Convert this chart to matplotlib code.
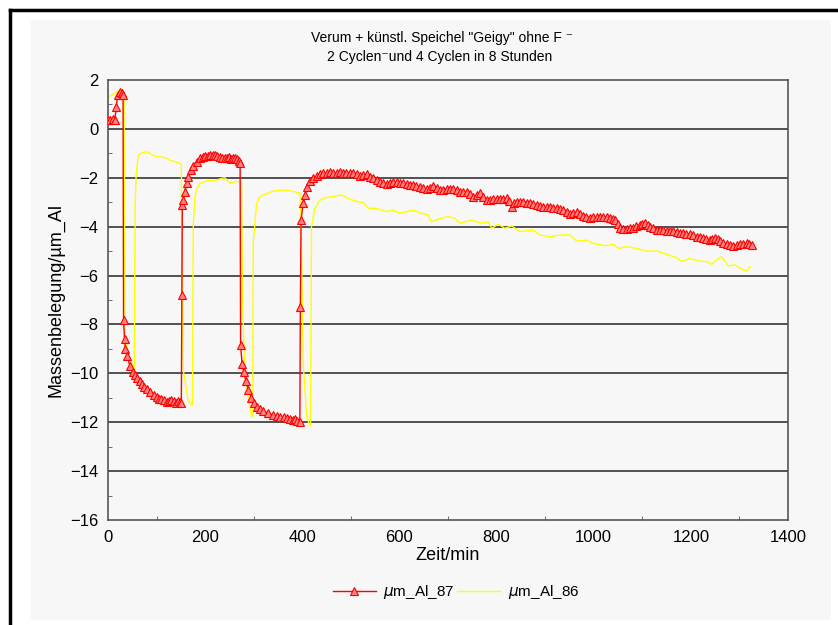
import matplotlib
matplotlib.use("Agg")
import matplotlib.pyplot as plt
from matplotlib.patches import Rectangle
from matplotlib.ticker import MultipleLocator

# red series, um_Al_87: (Zeit/min, Massenbelegung)
pts87 = [
    (0, 0.36), (5, 0.36), (10, 0.4), (14, 0.36), (17, 0.9), (20, 1.4), (24, 1.5), (28, 1.45),
    (31, 1.4), (32, -7.8), (34, -8.6), (36, -9.0), (40, -9.3), (45, -9.7), (51, -9.95),
    (56, -10.05), (60, -10.2), (65, -10.3), (70, -10.45), (75, -10.55), (80, -10.65),
    (87, -10.76), (95, -10.9), (100, -10.95), (105, -11.05), (110, -11.05), (115, -11.1),
    (122, -11.17), (126, -11.12), (130, -11.1), (135, -11.15), (140, -11.2), (144, -11.12),
    (148, -11.17), (151, -11.2),
    (152, -6.8), (153, -3.1), (155, -2.9), (158, -2.6), (162, -2.2), (165, -1.97), (170, -1.7),
    (176, -1.5), (183, -1.34), (190, -1.2), (195, -1.15), (200, -1.12), (205, -1.1),
    (210, -1.08), (216, -1.07), (220, -1.08), (225, -1.1), (230, -1.15), (235, -1.2),
    (240, -1.18), (244, -1.2), (250, -1.15), (254, -1.22), (258, -1.2), (262, -1.18),
    (265, -1.25), (270, -1.3), (272, -1.4),
    (273, -8.84), (276, -9.6), (279, -9.93), (284, -10.3), (289, -10.68), (295, -11.0),
    (300, -11.2), (306, -11.36), (313, -11.45), (320, -11.55), (330, -11.62), (340, -11.7),
    (348, -11.75), (355, -11.78), (362, -11.8), (368, -11.83), (375, -11.88), (380, -11.9),
    (385, -11.87), (390, -11.95), (395, -11.98),
    (396, -7.27), (397.5, -3.73), (401.7, -3.04), (406, -2.7), (409, -2.36), (416, -2.15),
    (423, -2.02), (430, -1.92), (436.5, -1.85), (443, -1.8), (450, -1.82), (457, -1.78),
    (464, -1.82), (471, -1.8), (477.7, -1.75), (484, -1.8), (491, -1.82), (498, -1.8),
    (505, -1.82), (512, -1.86), (519, -1.93), (526, -1.88), (532.6, -1.85), (539, -1.95),
    (546, -2.02), (553, -2.1), (560, -2.16), (567, -2.2), (574, -2.25), (580, -2.2),
    (587, -2.16), (594, -2.18), (601, -2.2), (608, -2.22), (615, -2.25), (622, -2.28),
    (628.6, -2.3), (635, -2.33), (642, -2.36), (649, -2.42), (656, -2.47), (663, -2.4),
    (670, -2.34), (677, -2.42), (683.6, -2.5), (690, -2.48), (697, -2.45), (704, -2.46),
    (711, -2.47), (718, -2.52), (724.7, -2.6), (731, -2.6), (738.5, -2.57), (745, -2.68),
    (752, -2.77), (759, -2.7), (766, -2.64), (773, -2.78), (779.7, -2.91), (786, -2.9),
    (793, -2.88), (800, -2.88), (807, -2.88), (814, -2.86), (821, -2.84), (826, -2.95),
    (831, -3.18), (836, -3.05), (841.4, -2.98), (848, -2.98), (855, -2.98), (862, -3.02),
    (869, -3.05), (876, -3.08), (882.6, -3.11), (889, -3.16), (896, -3.2), (903, -3.2),
    (910, -3.2), (917, -3.22), (924, -3.25), (931, -3.28), (937.6, -3.32), (944, -3.4),
    (951, -3.5), (958, -3.46), (965, -3.41), (972, -3.48), (978.6, -3.55), (985, -3.6),
    (992, -3.63), (999, -3.61), (1006, -3.59), (1013, -3.59), (1020, -3.59), (1027, -3.62),
    (1033.6, -3.66), (1039, -3.7), (1044, -3.73), (1049, -3.9), (1054, -4.04), (1061, -4.08),
    (1068, -4.1), (1075, -4.07), (1081.6, -4.04), (1088, -3.98), (1095, -3.93), (1100, -3.88),
    (1105.6, -3.86), (1111, -3.93), (1116, -4.0), (1123, -4.07), (1129.6, -4.14),
    (1136, -4.14), (1143, -4.14), (1150, -4.16), (1157, -4.18), (1164, -4.19), (1171, -4.2),
    (1178, -4.24), (1184.6, -4.27), (1191, -4.29), (1198, -4.31), (1205, -4.36),
    (1212, -4.41), (1219, -4.43), (1225.6, -4.45), (1232, -4.5), (1239, -4.55), (1244, -4.5),
    (1249.7, -4.45), (1255, -4.52), (1260, -4.59), (1267, -4.66), (1273.6, -4.72),
    (1280, -4.75), (1287, -4.78), (1294, -4.75), (1301, -4.72), (1308, -4.7), (1315, -4.68),
    (1320, -4.72), (1325, -4.75),
]

# yellow series, um_Al_86
pts86 = [
    (0, 1.3), (10, 1.4), (20, 1.55), (25, 1.6), (30, 1.6), (33, 1.5), (34, -4.0), (35, -8.5),
    (42, -9.2), (49, -9.6), (54, -9.8), (56, -3.0), (58, -1.9), (62, -1.07), (70, -0.98),
    (80, -0.93), (90, -1.05), (100, -1.14), (110, -1.15), (120, -1.2), (130, -1.3),
    (140, -1.35), (148, -1.41), (151, -1.45), (152, -5.5), (155, -9.86), (160, -10.5),
    (165, -11.1), (170, -11.25), (174, -11.3), (175.5, -4.0), (179, -2.77), (184, -2.4),
    (189, -2.23), (200, -2.15), (210, -2.1), (224, -2.09), (235, -2.02), (241, -2.0),
    (251, -2.23), (262, -2.15), (275, -2.16), (277, -7.1), (282, -10.0), (286, -10.68),
    (291, -11.3), (296, -11.77), (298, -11.8), (299, -4.68), (306, -3.04), (312, -2.8),
    (320, -2.7), (340, -2.55), (360, -2.5), (380, -2.55), (395, -2.63), (398, -4.55),
    (402, -9.6), (409, -11.77), (413, -12.0), (417, -12.15), (419, -4.0), (426, -3.25),
    (436.5, -2.91), (450, -2.8), (464, -2.77), (481, -2.7), (498, -2.88), (515, -2.98),
    (525.7, -3.02), (536, -3.25), (553, -3.25), (574, -3.39), (587, -3.32), (601, -3.45),
    (628.6, -3.32), (642, -3.43), (659, -3.52), (666, -3.8), (683.6, -3.66), (700.7, -3.59),
    (714, -3.66), (724.7, -3.86), (748.6, -3.73), (769, -3.86), (783, -3.8), (790, -4.07),
    (803.7, -3.89), (817, -4.07), (831, -3.97), (848, -4.2), (876, -4.14), (889, -4.34),
    (910, -4.41), (930.6, -4.34), (951, -4.34), (965, -4.59), (985.5, -4.55), (999, -4.68),
    (1023, -4.78), (1040.5, -4.72), (1051, -4.89), (1068, -4.82), (1088.6, -4.89),
    (1109, -5.0), (1130, -5.0), (1150, -5.13), (1171, -5.27), (1181, -5.43), (1198, -5.3),
    (1215.5, -5.4), (1233, -5.43), (1243, -5.54), (1253, -5.36), (1263.5, -5.23),
    (1277, -5.6), (1291, -5.57), (1308, -5.77), (1316, -5.81), (1322, -5.64),
]

x87, y87 = zip(*pts87)
x86, y86 = zip(*pts86)

plt.rcParams['font.family'] = ['Liberation Sans', 'DejaVu Sans']

fig = plt.figure(figsize=(8.38, 6.25), dpi=100)
fig.patch.set_facecolor('white')

# grey panel and black frame like the original export
fig.patches.append(Rectangle((31/838, 1-620/625), (831-31)/838, 600/625,
                             transform=fig.transFigure, facecolor='#f7f7f7',
                             edgecolor='none', zorder=-10))
fig.lines.append(plt.Line2D([10/838, 10/838], [0, 1-10/625], transform=fig.transFigure,
                            color='black', lw=2.5, zorder=-5))
fig.lines.append(plt.Line2D([10/838, 1], [1-10/625, 1-10/625], transform=fig.transFigure,
                            color='black', lw=2.5, zorder=-5))

ax = fig.add_axes([108/838, 1-520/625, 680/838, 440/625])
ax.set_facecolor('#f7f7f7')

ax.plot(x87, y87, color='red', lw=1, marker='^', ms=5.5, mfc='#ff8080', mec='red',
        mew=0.8, label=r'$\mu$m_Al_87', zorder=3)
ax.plot(x86, y86, color='#ffff00', lw=1, label=r'$\mu$m_Al_86', zorder=2)

ax.set_xlim(0, 1400)
ax.set_ylim(-16, 2)
ax.xaxis.set_major_locator(MultipleLocator(200))
ax.xaxis.set_minor_locator(MultipleLocator(100))
ax.yaxis.set_major_locator(MultipleLocator(2))
ax.yaxis.set_minor_locator(MultipleLocator(1))
ax.tick_params(which='both', direction='in', labelsize=12, color='#555555')
ax.tick_params(which='major', length=0, pad=7)
ax.tick_params(which='minor', length=3)
for s in ax.spines.values():
    s.set_color('#555555')
    s.set_linewidth(1.2)

for yv in range(-14, 1, 2):
    ax.axhline(yv, color='#444444', lw=1.3, zorder=1)

ax.set_xlabel('Zeit/min', fontsize=13, labelpad=2)
ax.set_ylabel('Massenbelegung/µm_Al', fontsize=13, labelpad=4)

fig.text(442/838, 1-38/625, 'Verum + künstl. Speichel "Geigy" ohne F \u207b',
         ha='center', va='center', fontsize=10)
fig.text(440/838, 1-57/625, '2 Cyclen\u207bund 4 Cyclen in 8 Stunden',
         ha='center', va='center', fontsize=10)

fig.legend(loc='center', bbox_to_anchor=(456/838, 1-592/625), ncol=2, frameon=False,
           fontsize=11, handlelength=2.8, columnspacing=0.2, handletextpad=0.5)

fig.savefig('out.png', dpi=100)
